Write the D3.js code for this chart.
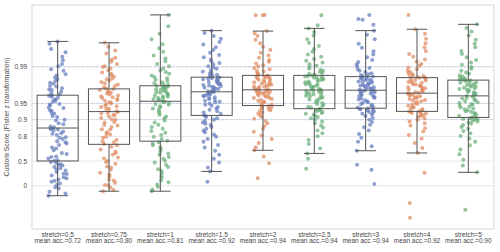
<!DOCTYPE html>
<html>
<head>
<meta charset="utf-8">
<script src="https://cdn.jsdelivr.net/npm/d3@7"></script>
<style>
  body { margin: 0; background: #fff; }
  text { font-family: "Liberation Sans", Arial, sans-serif; fill: #444; }
</style>
</head>
<body>
<div id="chart"></div>
<script>
// categories and per-category labels
var stretches = ["0.5", "0.75", "1", "1.5", "2", "2.5", "3", "4", "5"];
var meanAcc = ["0.72", "0.80", "0.81", "0.92", "0.94", "0.94", "0.94", "0.92", "0.90"];

// y ticks (correlation values, drawn at their Fisher z position)
var yTicks = [0, 0.5, 0.8, 0.9, 0.95, 0.99];
var yTickLabels = ["0", "0.5", "0.8", "0.9", "0.95", "0.99"];
var refLines = [0.9, 0.95, 0.99];

// scores per run, Fisher z units
var s05 = [-0.22,-0.17,-0.13,-0.06,-0.03,0.02,0.05,0.09,0.11,0.14,0.17,0.19,0.23,0.26,0.27,0.31,0.34,0.37,0.39,0.42,0.45,0.47,0.48,0.51,0.53,
  0.56,0.57,0.61,0.64,0.65,0.71,0.73,0.79,0.83,0.85,0.91,0.94,0.97,0.99,1.04,1.07,1.08,1.13,1.16,1.17,1.21,1.23,1.25,1.26,1.27,
  1.3,1.32,1.37,1.39,1.45,1.47,1.53,1.55,1.61,1.62,1.67,1.68,1.73,1.74,1.79,1.81,1.82,1.87,1.89,1.91,1.92,1.96,1.98,2.0,2.01,
  2.03,2.06,2.09,2.13,2.14,2.17,2.21,2.22,2.27,2.29,2.33,2.37,2.41,2.45,2.48,2.56,2.59,2.66,2.71,2.79,2.87,2.97,3.04,3.16,3.21];
var s075 = [-0.12,-0.09,-0.04,0.01,0.02,0.07,0.12,0.14,0.21,0.25,0.29,0.36,0.41,0.43,0.49,0.53,0.55,0.61,0.63,0.69,0.73,0.76,0.81,0.87,0.9,
  0.93,0.97,0.99,1.02,1.07,1.09,1.14,1.17,1.19,1.25,1.26,1.31,1.34,1.35,1.41,1.42,1.47,1.48,1.51,1.54,1.57,1.58,1.61,1.62,1.64,
  1.66,1.67,1.71,1.72,1.75,1.77,1.78,1.81,1.83,1.85,1.86,1.89,1.91,1.93,1.95,1.97,1.99,2.01,2.03,2.05,2.07,2.09,2.11,2.13,2.15,
  2.17,2.19,2.22,2.25,2.28,2.31,2.34,2.37,2.39,2.43,2.46,2.49,2.52,2.57,2.61,2.64,2.66,2.71,2.76,2.81,2.85,2.94,3.01,3.09,3.18];
var s1 = [-0.12,-0.08,-0.02,0.03,0.08,0.12,0.18,0.22,0.28,0.33,0.37,0.42,0.47,0.52,0.56,0.6,0.64,0.69,0.72,0.77,0.82,0.86,0.9,0.94,0.97,
  1.0,1.04,1.09,1.13,1.18,1.22,1.27,1.31,1.36,1.41,1.45,1.5,1.54,1.58,1.62,1.66,1.69,1.72,1.75,1.77,1.8,1.82,1.84,1.86,1.87,
  1.89,1.9,1.92,1.93,1.95,1.96,1.98,1.99,2.01,2.02,2.04,2.05,2.07,2.08,2.1,2.11,2.13,2.14,2.15,2.17,2.18,2.19,2.2,2.21,2.22,
  2.24,2.26,2.28,2.3,2.33,2.36,2.39,2.42,2.45,2.49,2.53,2.57,2.61,2.66,2.71,2.77,2.83,2.9,2.98,3.06,3.15,3.26,3.38,3.55,3.8];
var s15 = [0.09,0.32,0.41,0.52,0.6,0.69,0.78,0.85,0.91,0.98,1.04,1.09,1.14,1.19,1.23,1.27,1.31,1.35,1.38,1.41,1.44,1.47,1.5,1.53,1.55,
  1.57,1.6,1.63,1.66,1.69,1.72,1.75,1.78,1.8,1.83,1.85,1.87,1.89,1.91,1.93,1.95,1.97,1.99,2.0,2.02,2.03,2.05,2.06,2.07,2.08,
  2.1,2.11,2.12,2.14,2.15,2.16,2.18,2.19,2.2,2.22,2.23,2.24,2.26,2.27,2.28,2.3,2.31,2.33,2.34,2.35,2.37,2.38,2.39,2.4,2.41,
  2.43,2.45,2.47,2.49,2.52,2.54,2.57,2.6,2.63,2.66,2.7,2.73,2.77,2.81,2.86,2.91,2.96,3.02,3.08,3.14,3.2,3.27,3.33,3.4,3.45];
var s2 = [0.17,0.5,0.65,0.79,0.86,0.95,1.04,1.12,1.2,1.27,1.33,1.39,1.44,1.49,1.53,1.57,1.6,1.63,1.66,1.68,1.7,1.72,1.74,1.76,1.77,
  1.79,1.81,1.83,1.85,1.87,1.89,1.91,1.93,1.95,1.96,1.98,1.99,2.01,2.02,2.04,2.05,2.06,2.07,2.08,2.09,2.1,2.11,2.12,2.12,2.13,
  2.14,2.15,2.16,2.18,2.19,2.2,2.21,2.23,2.24,2.25,2.27,2.28,2.3,2.31,2.33,2.34,2.36,2.37,2.39,2.4,2.41,2.42,2.43,2.44,2.45,
  2.47,2.49,2.51,2.54,2.56,2.59,2.62,2.65,2.68,2.72,2.76,2.8,2.85,2.9,2.96,3.02,3.09,3.17,3.25,3.33,3.39,3.44,3.79,3.79,3.8];
var s25 = [0.38,0.6,0.72,0.83,0.93,1.02,1.1,1.17,1.23,1.29,1.34,1.39,1.43,1.47,1.5,1.53,1.56,1.58,1.6,1.62,1.64,1.66,1.68,1.69,1.7,
  1.72,1.74,1.76,1.78,1.8,1.82,1.84,1.86,1.88,1.9,1.92,1.94,1.96,1.97,1.99,2.0,2.02,2.03,2.05,2.06,2.08,2.09,2.1,2.11,2.12,
  2.14,2.15,2.16,2.18,2.19,2.2,2.22,2.23,2.25,2.26,2.27,2.29,2.3,2.32,2.33,2.35,2.36,2.37,2.39,2.4,2.41,2.42,2.43,2.44,2.45,
  2.47,2.49,2.51,2.53,2.56,2.58,2.61,2.64,2.67,2.7,2.74,2.78,2.82,2.87,2.92,2.98,3.04,3.11,3.18,3.26,3.34,3.42,3.5,3.57,3.79];
var s3 = [0.04,0.36,0.47,0.78,0.88,0.98,1.07,1.15,1.23,1.3,1.36,1.42,1.47,1.51,1.55,1.58,1.6,1.62,1.64,1.66,1.68,1.69,1.7,1.71,1.72,
  1.74,1.76,1.78,1.8,1.82,1.84,1.86,1.88,1.9,1.92,1.94,1.96,1.97,1.99,2.0,2.02,2.03,2.05,2.06,2.08,2.09,2.1,2.11,2.12,2.13,
  2.14,2.15,2.17,2.18,2.19,2.2,2.22,2.23,2.24,2.25,2.27,2.28,2.29,2.31,2.32,2.33,2.35,2.36,2.37,2.38,2.4,2.41,2.42,2.43,2.44,
  2.46,2.48,2.5,2.53,2.56,2.59,2.62,2.66,2.7,2.75,2.8,2.86,2.92,2.99,3.07,3.16,3.26,3.36,3.45,3.58,3.69,3.71,3.8];
var s4 = [-0.71,-0.38,0.29,0.73,0.84,0.95,1.05,1.13,1.21,1.28,1.34,1.39,1.43,1.47,1.5,1.53,1.55,1.57,1.59,1.61,1.62,1.63,1.64,1.65,1.66,
  1.68,1.7,1.72,1.74,1.76,1.78,1.8,1.82,1.84,1.86,1.88,1.9,1.91,1.93,1.95,1.96,1.98,1.99,2.01,2.02,2.04,2.05,2.06,2.07,2.08,
  2.1,2.11,2.13,2.14,2.16,2.17,2.19,2.2,2.22,2.23,2.25,2.26,2.28,2.29,2.31,2.32,2.34,2.35,2.37,2.38,2.4,2.41,2.42,2.43,2.44,
  2.46,2.48,2.5,2.53,2.56,2.59,2.63,2.67,2.71,2.76,2.81,2.87,2.93,3.0,3.08,3.17,3.27,3.38,3.48,3.8];
var s5 = [-0.53,0.3,0.45,0.58,0.7,0.81,0.9,0.98,1.05,1.11,1.17,1.22,1.27,1.31,1.35,1.38,1.41,1.43,1.45,1.47,1.48,1.49,1.5,1.51,1.52,
  1.54,1.56,1.58,1.6,1.62,1.64,1.66,1.68,1.7,1.72,1.74,1.76,1.78,1.8,1.82,1.84,1.86,1.88,1.9,1.92,1.94,1.96,1.98,2.0,2.01,
  2.03,2.05,2.06,2.08,2.09,2.11,2.12,2.14,2.15,2.17,2.18,2.2,2.21,2.23,2.24,2.26,2.27,2.29,2.3,2.32,2.33,2.34,2.35,2.36,2.37,
  2.39,2.41,2.43,2.46,2.49,2.52,2.56,2.6,2.64,2.69,2.74,2.8,2.86,2.93,3.0,3.08,3.16,3.25,3.34,3.43,3.51,3.59];

var scores = [s05, s075, s1, s15, s2, s25, s3, s4, s5];
var palette = ["#6a80c0", "#e08f66", "#6fb27d"];

var margin = {top: 5, right: 6, bottom: 23, left: 32},
    width = 500 - margin.left - margin.right,
    height = 252 - margin.top - margin.bottom;

var svg = d3.select("#chart")
  .append("svg")
    .attr("width", 500)
    .attr("height", 252)
  .append("g")
    .attr("transform", "translate(" + margin.left + "," + margin.top + ")");

var x = d3.scaleBand()
  .domain(stretches)
  .range([0, width])
  .padding(0);

var y = d3.scaleLinear()
  .domain([-0.96, 4.02])
  .range([height, 0]);

// grid
svg.append("g")
  .selectAll("line")
  .data(yTicks)
  .enter().append("line")
    .attr("x1", 0).attr("x2", width)
    .attr("y1", function(d) { return y(Math.atanh(d)); })
    .attr("y2", function(d) { return y(Math.atanh(d)); })
    .attr("stroke", "#e4e4e4")
    .attr("stroke-width", 0.9);

svg.append("g")
  .selectAll("line")
  .data(refLines)
  .enter().append("line")
    .attr("x1", 0).attr("x2", width)
    .attr("y1", function(d) { return y(Math.atanh(d)); })
    .attr("y2", function(d) { return y(Math.atanh(d)); })
    .attr("stroke", "#c0cbe6")
    .attr("stroke-width", 0.8)
    .attr("stroke-dasharray", "3,1.5");

// frame
svg.append("rect")
  .attr("width", width).attr("height", height)
  .attr("fill", "none")
  .attr("stroke", "#d6d6d6")
  .attr("stroke-width", 1);

// y axis
var yAxis = svg.append("g")
  .call(d3.axisLeft(y)
    .tickValues(yTicks.map(Math.atanh))
    .tickSize(0)
    .tickPadding(5)
    .tickFormat(function(d, i) { return yTickLabels[i]; }));
yAxis.select(".domain").remove();
yAxis.selectAll("text")
  .style("font-size", "6.4px")
  .style("font-family", "Liberation Sans, Arial, sans-serif")
  .attr("fill", "#444");

svg.append("text")
  .attr("transform", "translate(" + (-23) + "," + (height / 2) + ") rotate(-90)")
  .attr("text-anchor", "middle")
  .style("font-size", "6.8px")
  .text("Custom Score (Fisher z transformation)");

// x labels, two lines
var xl = svg.append("g")
  .selectAll("text")
  .data(stretches)
  .enter().append("text")
    .attr("text-anchor", "middle")
    .attr("x", function(d) { return x(d) + x.bandwidth() / 2; })
    .attr("y", height + 8)
    .style("font-size", "6.5px");
xl.append("tspan")
  .attr("x", function(d) { return x(d) + x.bandwidth() / 2; })
  .text(function(d) { return "stretch=" + d; });
xl.append("tspan")
  .attr("x", function(d) { return x(d) + x.bandwidth() / 2; })
  .attr("dy", 6.4)
  .text(function(d, i) { return "mean acc.=" + meanAcc[i]; });

// strip points, deterministic jitter
function jit(i, k) {
  var v = Math.sin(i * 12.9898 + k * 78.233) * 43758.5453;
  return v - Math.floor(v) - 0.5;
}
var jitter = x.bandwidth() * 0.18;
scores.forEach(function(vals, k) {
  var cx = x(stretches[k]) + x.bandwidth() / 2;
  svg.append("g")
    .selectAll("circle")
    .data(vals)
    .enter().append("circle")
      .attr("cx", function(d, i) { return cx + jit(i, k) * 2 * jitter; })
      .attr("cy", function(d) { return y(d); })
      .attr("r", 2)
      .attr("fill", palette[k % 3])
      .attr("fill-opacity", 0.75);
});

// boxes
var boxW = x.bandwidth() * 0.8;
scores.forEach(function(vals, k) {
  var s = vals.slice().sort(d3.ascending);
  var q1 = d3.quantile(s, 0.25), med = d3.quantile(s, 0.5), q3 = d3.quantile(s, 0.75);
  var iqr = q3 - q1;
  var lo = d3.min(s.filter(function(v) { return v >= q1 - 1.5 * iqr; }));
  var hi = d3.max(s.filter(function(v) { return v <= q3 + 1.5 * iqr; }));
  var cx = x(stretches[k]) + x.bandwidth() / 2;
  var g = svg.append("g")
    .attr("stroke", "#555")
    .attr("stroke-width", 1)
    .attr("fill", "none");
  g.append("line").attr("x1", cx).attr("x2", cx).attr("y1", y(q3)).attr("y2", y(hi));
  g.append("line").attr("x1", cx).attr("x2", cx).attr("y1", y(q1)).attr("y2", y(lo));
  g.append("line").attr("x1", cx - boxW / 4).attr("x2", cx + boxW / 4).attr("y1", y(hi)).attr("y2", y(hi));
  g.append("line").attr("x1", cx - boxW / 4).attr("x2", cx + boxW / 4).attr("y1", y(lo)).attr("y2", y(lo));
  g.append("rect")
    .attr("x", cx - boxW / 2).attr("width", boxW)
    .attr("y", y(q3)).attr("height", y(q1) - y(q3));
  g.append("line").attr("x1", cx - boxW / 2).attr("x2", cx + boxW / 2).attr("y1", y(med)).attr("y2", y(med));
});
</script>
</body>
</html>
